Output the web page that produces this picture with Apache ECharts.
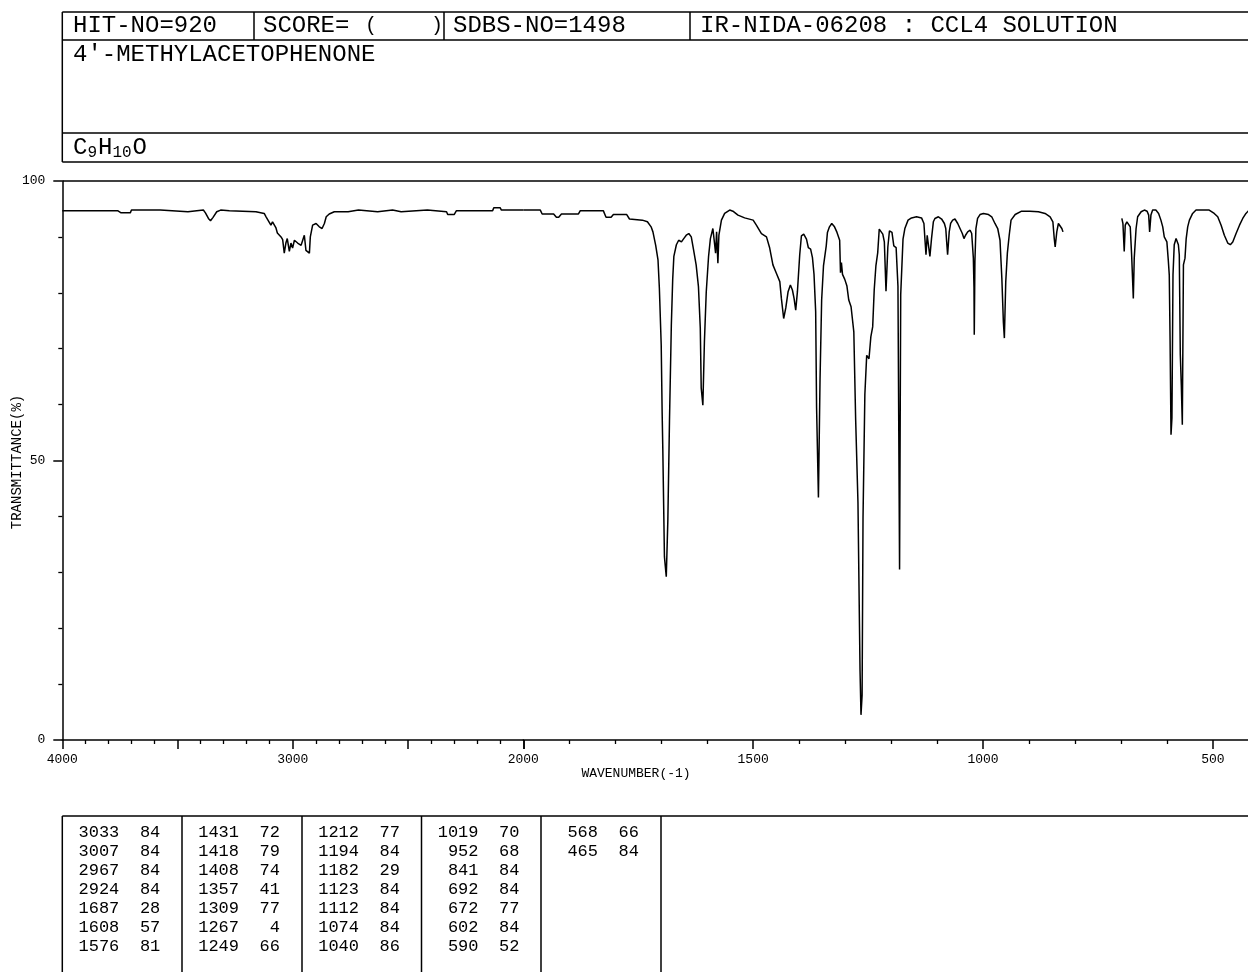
<!DOCTYPE html>
<html><head><meta charset="utf-8">
<script src="https://cdn.jsdelivr.net/npm/echarts@6/dist/echarts.min.js"></script>
<style>html,body{margin:0;padding:0;background:#fff}#c{width:1248px;height:972px}</style>
</head><body><div id="c"></div>
<script>
// ---- DATA ----
// Spectrum 4000-2000 cm-1 : [wavenumber, transmittance %]
const specHigh = [
[4000,94.7],[3760,94.7],[3745,94.3],[3705,94.3],[3700,94.8],[3575,94.8],[3570,94.5],[3455,94.5],[3450,94.8],[3388,94.8],
[3379,94.3],[3366,93.3],[3357,92.9],[3346,93.5],[3330,94.5],[3313,94.8],[3275,94.7],[3270,94.5],[3160,94.5],[3124,94.2],
[3116,93.6],[3095,92.1],[3088,92.7],[3080,92.7],[3073,91.6],[3067,90.7],[3051,90.0],[3044,89.5],[3037,87.1],[3030,88.9],
[3024,89.7],[3015,87.4],[3008,88.9],[3001,88.0],[2993,89.4],[2986,89.1],[2979,88.9],[2972,89.1],[2964,88.5],[2957,89.4],
[2950,90.3],[2943,87.6],[2936,87.4],[2928,87.1],[2924,90.0],[2914,92.1],[2899,92.4],[2885,91.8],[2873,91.5],[2863,92.4],
[2855,93.6],[2842,94.1],[2820,94.5],[2760,94.5],[2752,94.8],[2715,94.8],[2710,94.5],[2632,94.5],[2627,94.8],[2567,94.8],
[2562,94.5],[2530,94.5],[2524,94.8],[2416,94.8],[2410,94.5],[2333,94.5],[2328,94.0],[2300,94.0],[2290,94.7],[2133,94.7],
[2128,95.2],[2100,95.2],[2095,94.8],[2000,94.8]
];
// Spectrum 2000-826 cm-1
const specMid = [
[2000,94.8],[1963,94.8],[1959,94.1],[1934,94.1],[1928,93.5],[1923,93.5],[1917,94.1],[1880,94.1],[1876,94.7],[1826,94.7],
[1820,93.5],[1809,93.5],[1804,94.0],[1775,94.0],[1769,93.2],[1741,93.0],[1730,92.7],[1722,91.8],[1718,90.9],[1712,88.5],
[1707,85.9],[1704,80.8],[1700,70.7],[1698,58.7],[1696.5,51.9],[1693,32.8],[1689,29.2],[1685.6,39.2],[1682,57.1],[1678,74.1],
[1675,82.4],[1672.5,86.5],[1667,88.6],[1662,89.4],[1656,89.1],[1651,89.7],[1645.5,90.3],[1640,90.6],[1634.6,90.0],[1629.6,87.7],
[1624,85.0],[1619,81.1],[1615,73.7],[1613,63.0],[1609.4,59.9],[1606,71.3],[1602,80.2],[1597,86.5],[1593,89.7],[1587.6,91.5],
[1584.5,91.8],[1581.7,87.1],[1579.5,90.9],[1576.7,85.3],[1574.5,90.3],[1569,93.0],[1562,94.2],[1551,94.8],[1544,94.6],[1533,93.9],
[1518.5,93.4],[1500,93.0],[1493,92.1],[1482,90.6],[1471,90.0],[1464,88.0],[1457,85.0],[1449.5,83.5],[1442,82.0],[1438.6,79.0],
[1433.6,75.4],[1429,77.3],[1424,80.2],[1419,81.4],[1414.6,80.5],[1411,79.0],[1407.4,76.9],[1403.7,80.2],[1398.7,86.8],[1395,90.2],
[1390,90.5],[1384,89.6],[1380,88.1],[1375,87.8],[1371,86.3],[1367.6,83.3],[1364,76.6],[1362,59.4],[1358,43.4],[1354.5,64.6],
[1351,78.7],[1347,84.8],[1341,88.4],[1338.4,90.8],[1334,91.8],[1329,92.4],[1323,91.8],[1317.6,90.8],[1311.8,89.4],[1310,83.6],
[1308,85.4],[1305.6,83.3],[1300.7,82.4],[1296,81.2],[1292,78.7],[1287,77.5],[1281,73.0],[1277,57.3],[1272,42.5],[1267.5,12.5],
[1265.4,4.5],[1263,8.0],[1261,39.7],[1257,61.8],[1253,68.8],[1248,68.2],[1244,72.1],[1240,73.9],[1236.6,80.6],[1233,84.8],
[1229,87.2],[1225.7,91.4],[1222,91.4],[1218,90.5],[1214.6,89.1],[1211,80.3],[1207,88.2],[1203.5,91.1],[1198,90.8],[1194,88.4],
[1189,88.1],[1185,81.2],[1181.5,30.5],[1179,79.7],[1174,89.6],[1170,91.5],[1163,93.0],[1155.5,93.4],[1144.6,93.6],[1133.7,93.4],
[1128.5,92.4],[1126.4,89.7],[1124,86.8],[1121.4,90.3],[1119,90.0],[1115.5,86.5],[1112,89.7],[1108,92.7],[1104.6,93.3],[1097,93.6],
[1090,93.2],[1084,92.4],[1081,91.5],[1079,89.1],[1077,86.8],[1073.5,90.9],[1070.4,92.4],[1066,93.0],[1061,93.2],[1055,92.4],
[1050,91.5],[1045,90.6],[1041.4,89.7],[1038,90.3],[1033.3,90.9],[1028,91.2],[1024.6,90.6],[1021,86.2],[1019.6,80.9],[1019,72.5],
[1017.6,85.6],[1015.4,91.5],[1011.8,93.3],[1006.5,94.0],[999,94.2],[988,94.0],[981,93.6],[974,92.4],[968,91.5],[963,89.4],
[959,82.6],[955.7,74.8],[953.5,71.9],[950.5,82.0],[947,87.1],[943,90.3],[939,93.0],[930,94.0],[916,94.6],[898,94.6],
[879.5,94.5],[865,94.2],[854,93.6],[848,92.7],[845,89.7],[843,88.2],[839.5,90.9],[836,92.4],[832,92.1],[828.5,91.5],[826,90.9]
];
// Spectrum 698-410 cm-1
const specLow = [
[698,93.3],[695.6,92.4],[692.8,87.4],[690.6,92.1],[687,92.7],[683,93.0],[679.7,91.8],[676.7,86.8],[673,79.0],[671,86.2],
[667,91.5],[663.6,93.6],[656,94.5],[649,94.8],[643,94.6],[639.6,93.9],[637.5,90.9],[634.7,93.9],[631,94.8],[624,94.8],
[618,94.2],[613,93.0],[609,91.8],[605.7,90.0],[600,89.1],[597,85.9],[594.8,83.2],[593,71.3],[591,54.6],[589,57.6],
[586.7,83.2],[584,88.6],[580,89.7],[578,90.0],[575,88.6],[573,86.8],[570.8,68.9],[568.6,63.5],[566.4,56.4],[564,85.0],
[560.6,86.2],[558,89.7],[554.7,91.8],[551,93.0],[544,94.2],[536.6,94.8],[508,94.8],[497,94.2],[489.4,93.6],[482,92.1],
[475,90.3],[467.6,88.9],[462,88.6],[456.7,89.1],[449.5,90.6],[442,92.1],[435,93.3],[428,94.2],[421,94.8],[410,95.0]
];
const xLabelsHigh = [4000, 3000, 2000];
const xLabelsLow = [1500, 1000, 500];
const yLabels = [0, 50, 100];
const headerCells = ['HIT-NO=920', 'SCORE=', 'SDBS-NO=1498', 'IR-NIDA-06208 : CCL4 SOLUTION'];
const compoundName = "4'-METHYLACETOPHENONE";
const formulaParts = [['C', false], ['9', true], ['H', false], ['10', true], ['O', false]];
const peakWave = [3033,3007,2967,2924,1687,1608,1576, 1431,1418,1408,1357,1309,1267,1249,
                  1212,1194,1182,1123,1112,1074,1040, 1019,952,841,692,672,602,590, 568,465];
const peakTrans = [84,84,84,84,28,57,81, 72,79,74,41,77,4,66, 77,84,29,84,84,84,86, 70,68,84,84,77,84,52, 66,84];

// ---- LAYOUT ----
const FONT = '"Liberation Mono","DejaVu Sans Mono",monospace';
const X0 = 62.3, XMID = 523.3, YTOP = 181, YBOT = 740;
const chart = echarts.init(document.getElementById('c'));
function txt(x, y, text, size, align, extra) {
  return Object.assign({type: 'text', x: x, y: y, z: 20, silent: true,
    style: {text: String(text), font: size + 'px ' + FONT, fill: '#000',
      align: align || 'left', verticalAlign: 'middle', textAlign: align || 'left', textVerticalAlign: 'middle'}}, extra || {});
}
function ln(x1, y1, x2, y2, w) {
  return {type: 'line', z: 20, silent: true, shape: {x1: x1, y1: y1, x2: x2, y2: y2}, style: {stroke: '#000', lineWidth: w || 1.5}};
}
const g = [];
// header box
const HT = 12, HR1 = 40, HR2 = 133, HB = 162, XR = 1262;
g.push(ln(X0, HT, XR, HT), ln(X0, HR1, XR, HR1), ln(X0, HR2, XR, HR2), ln(X0, HB, XR, HB), ln(X0, HT, X0, HB));
[254, 444, 690].forEach(function (x) { g.push(ln(x, HT, x, HR1)); });
const cellX = [73, 263, 453, 700];
headerCells.forEach(function (t, i) { g.push(txt(cellX[i], 26, t, 24)); });
g.push(txt(371, 26, '(', 20, 'center'), txt(437, 26, ')', 20, 'center'));
g.push(txt(73, 55, compoundName, 24));
let fx = 73;
formulaParts.forEach(function (p) {
  if (p[1]) { g.push(txt(fx, 153, p[0], 16)); fx += p[0].length * 9.6 + 1; }
  else { g.push(txt(fx, 148, p[0], 24)); fx += 14.4; }
});
// plot top border
g.push(ln(X0, YTOP, XR, YTOP));
// axis names
g.push(txt(17, 462, 'TRANSMITTANCE(%)', 14, 'center', {rotation: Math.PI / 2}));
g.push(txt(636, 774, 'WAVENUMBER(-1)', 13, 'center'));
// peak table
const TT = 816, colL = [62.3, 182, 302, 421.5, 541, 661];
g.push(ln(X0, TT, XR, TT));
colL.forEach(function (x) { g.push(ln(x, TT, x, 990)); });
peakWave.forEach(function (w, i) {
  const c = Math.floor(i / 7), r = i % 7, y = 832 + r * 19;
  g.push(txt(colL[c] + 57, y, w, 17, 'right'));
  g.push(txt(colL[c] + 98, y, peakTrans[i], 17, 'right'));
});

const black = {color: '#000', width: 1.5};
function xAxis(idx, min, max, labels) {
  return {type: 'value', gridIndex: idx, min: min, max: max, inverse: true, interval: 500,
    axisLine: {show: true, onZero: false, lineStyle: black},
    axisTick: {show: true, length: 9, lineStyle: black},
    minorTick: {show: true, splitNumber: 5, length: 4, lineStyle: {color: '#000', width: 1.3}},
    splitLine: {show: false}, minorSplitLine: {show: false},
    axisLabel: {show: true, margin: 13, color: '#000', fontFamily: FONT, fontSize: 13, showMinLabel: true, showMaxLabel: true,
      formatter: function (v) { return labels.indexOf(v) >= 0 ? String(v) : ''; }}};
}
chart.setOption({
  animation: false,
  backgroundColor: '#fff',
  grid: [
    {left: X0, top: YTOP, width: XMID - X0, height: YBOT - YTOP, containLabel: false, outerBoundsMode: 'none'},
    {left: XMID, top: YTOP, width: 2000 * 0.4597, height: YBOT - YTOP, containLabel: false, outerBoundsMode: 'none'}
  ],
  xAxis: [xAxis(0, 2000, 4000, xLabelsHigh), xAxis(1, 0, 2000, xLabelsLow)],
  yAxis: [
    {type: 'value', gridIndex: 0, min: 0, max: 100, interval: 50,
      axisLine: {show: true, lineStyle: black},
      axisTick: {show: true, length: 9, lineStyle: black},
      minorTick: {show: true, splitNumber: 5, length: 4, lineStyle: {color: '#000', width: 1.3}},
      splitLine: {show: false},
      axisLabel: {margin: 17, color: '#000', fontFamily: FONT, fontSize: 13,
        formatter: function (v) { return yLabels.indexOf(v) >= 0 ? String(v) : ''; }}},
    {type: 'value', gridIndex: 1, min: 0, max: 100, show: false}
  ],
  series: [
    {type: 'line', xAxisIndex: 0, yAxisIndex: 0, data: specHigh, showSymbol: false, symbol: 'none', lineStyle: {color: '#000', width: 1.5}},
    {type: 'line', xAxisIndex: 1, yAxisIndex: 1, data: specMid, showSymbol: false, symbol: 'none', lineStyle: {color: '#000', width: 1.5}},
    {type: 'line', xAxisIndex: 1, yAxisIndex: 1, data: specLow, showSymbol: false, symbol: 'none', lineStyle: {color: '#000', width: 1.5}}
  ],
  graphic: g
});
</script></body></html>
